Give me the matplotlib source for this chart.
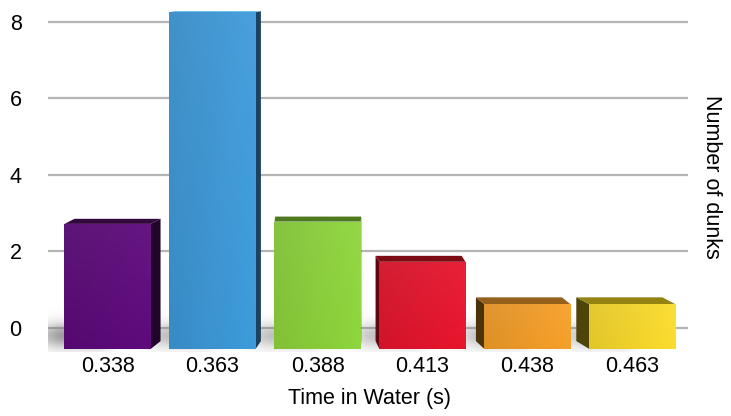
import numpy as np
import matplotlib.pyplot as plt
from matplotlib.patches import Polygon, Rectangle
from matplotlib.colors import to_rgb

plt.rcParams['font.family'] = ['Liberation Sans', 'DejaVu Sans']

# data
times = ['0.338', '0.363', '0.388', '0.413', '0.438', '0.463']
dunks = [2.72, 8.25, 2.78, 1.73, 0.62, 0.62]
yticks = [0, 2, 4, 6, 8]

# colours for front / top / side of each bar
front_colors = ['#5e0a7c', '#3e9bdb', '#8ed63c', '#e8152d', '#f7a029', '#fcdc2c']
top_colors = ['#33083f', '#5cbaf2', '#4e7a1f', '#7d0b16', '#94601c', '#938312']
side_colors = ['#21042a', '#1c4260', '#3d6a18', '#5e0710', '#4c3208', '#4c4408']

floor = -0.55      # bars stand on a floor in front of the back wall
width = 0.82
eye_level = 8.5
vanish_x = 2.16

fig = plt.figure(figsize=(7.31, 4.16), dpi=100)
ax = fig.add_axes([48 / 731, 1 - 352 / 416, 640 / 731, 347 / 416])
ax.set_xlim(-0.567, 5.529)
ax.set_ylim(-0.627, 8.44)

# back wall grid lines
ax.hlines(yticks, -0.567, 5.529, color='#b5b5b5', lw=1.6, zorder=0)

x = np.arange(len(times))

# soft shadow falling to the left of each bar
yy, xx = np.mgrid[-0.627:0.7:140j, -0.567:5.529:700j]
alpha = np.zeros_like(xx)
for i, xi in enumerate(x):
    edge = xi - width / 2
    d = np.where(xx < edge, (edge - xx) / 0.25, (xx - edge - 0.3) / 0.15)
    d = np.clip(d, 0, None)
    dyn = (yy + 0.2) / 0.32
    strength = 0.7 if i == 0 else 0.45
    alpha = np.maximum(alpha, strength * np.exp(-(d ** 2) - dyn ** 2))
shadow = np.zeros(xx.shape + (4,))
shadow[..., :3] = 0.45
shadow[..., 3] = alpha
ax.imshow(shadow, extent=(-0.567, 5.529, -0.627, 0.7), origin='lower',
          aspect='auto', zorder=1, interpolation='bilinear')

for xi, v, fc, tc, sc in zip(x, dunks, front_colors, top_colors, side_colors):
    left = xi - width / 2
    right = xi + width / 2
    dx = -0.044 * (xi - vanish_x)
    dy = max(0.023 * (eye_level - v), 0.03)
    dy0 = 0.023 * (eye_level - floor)

    # side face
    ex = right if dx > 0 else left
    side = [(ex, floor), (ex, v), (ex + dx, v + dy), (ex + dx, floor + dy0)]
    ax.add_patch(Polygon(side, closed=True, fc=sc, ec='none', zorder=2))

    # top face
    top = [(left, v), (right, v), (right + dx, v + dy), (left + dx, v + dy)]
    ax.add_patch(Polygon(top, closed=True, fc=tc, ec='none', zorder=2))

    # front face with light shading
    rect = Rectangle((left, floor), width, v - floor, fc='none', ec='none', zorder=3)
    ax.add_patch(rect)
    base = np.array(to_rgb(fc))
    u = np.linspace(0, 1, 60)[None, :, None]
    h = np.linspace(0, 1, 80)[:, None, None]
    grad = base * (0.9 + 0.1 * u)
    grad = grad + (1 - grad) * 0.05 * h
    grad = np.clip(grad, 0, 1)
    im = ax.imshow(grad, extent=(left, right, floor, v), origin='lower',
                   aspect='auto', zorder=3, interpolation='bilinear')
    im.set_clip_path(rect)

ax.set_xticks(x)
ax.set_xticklabels(times, fontsize=15.5)
ax.set_yticks(yticks)
ax.set_yticklabels([str(t) for t in yticks], fontsize=15.5)
ax.tick_params(axis='both', length=0)
ax.tick_params(axis='x', pad=3)
ax.tick_params(axis='y', pad=19)
for s in ax.spines.values():
    s.set_visible(False)

ax.text(0.503, -0.1326, 'Time in Water (s)', transform=ax.transAxes,
        ha='center', va='center', fontsize=15.5)
ax.text(1.0375, 0.506, 'Number of dunks', transform=ax.transAxes,
        ha='center', va='center', rotation=270, fontsize=15.5)

fig.savefig('out.png', dpi=100)
